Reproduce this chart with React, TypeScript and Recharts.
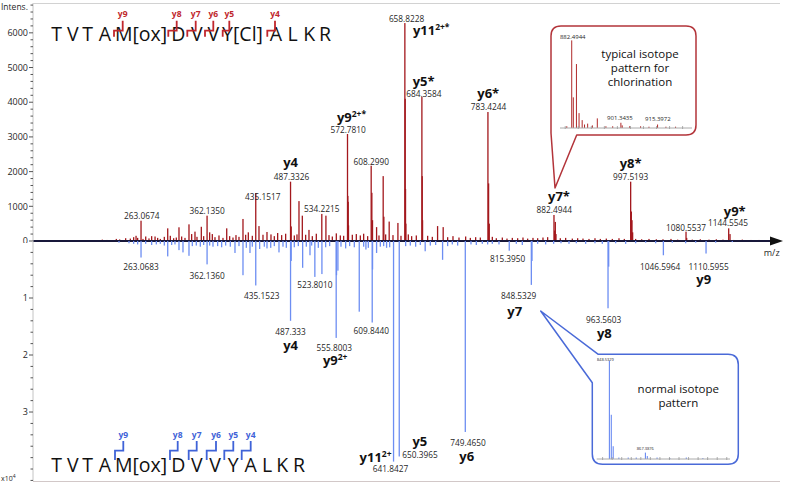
import React from 'react';
import { ComposedChart, Bar, Scatter, XAxis, YAxis, ReferenceLine } from 'recharts';

const FONT = '"Open Sans", "Noto Sans", Arial, sans-serif';
const RED = '#a3181d';
const RED_MARK = '#c0272d';
const BLUE = '#6d8ef2';
const BLUE_MARK = '#3f63d8';
const INK = '#1f1f1f';

const mzDomain = [101, 1220];

// ---- upper spectrum: chlorinated peptide ----
const topLabelMz = [263.0674, 362.135, 435.1517, 487.3326, 534.2215, 572.781, 608.299, 658.8228, 684.3584, 783.4244, 882.4944, 997.5193, 1080.5537, 1144.5545];
const topLabelInt = [585, 730, 1383, 1710, 780, 3084, 2170, 6282, 4150, 3718, 750, 1710, 270, 365];
const topLabelText = ['263.0674', '362.1350', '435.1517', '487.3326', '534.2215', '572.7810', '608.2990', '658.8228', '684.3584', '783.4244', '882.4944', '997.5193', '1080.5537', '1144.5545'];
const topIon = ['', '', '', 'y4', '', 'y9', '', 'y11', 'y5*', 'y6*', 'y7*', 'y8*', '', 'y9*'];
const topIonSup = ['', '', '', '', '', '2+*', '', '2+*', '', '', '', '', '', ''];

const topPeakMz = [255.6, 270.1, 284.1, 303.1, 320.0, 335.0, 344.0, 353.5, 370.0, 391.6, 405.5, 416.0, 440.0, 488.33, 500.0, 505.0, 515.0, 540.4, 573.28, 573.78, 574.28, 609.3, 610.3, 616.4, 626.3, 627.3, 635.3, 648.4, 659.32, 659.82, 660.32, 684.86, 685.36, 707.9, 716.3, 784.42, 785.42, 883.5, 884.49, 885.5, 998.52, 999.52, 1000.5, 1081.55, 1146.55];
const topPeakInt = [150, 130, 130, 365, 395, 480, 270, 410, 200, 365, 170, 635, 430, 420, 1150, 730, 320, 730, 1300, 1130, 450, 1390, 600, 400, 1870, 700, 560, 520, 4100, 1500, 500, 1870, 600, 430, 400, 1660, 500, 300, 550, 200, 850, 600, 250, 90, 200];

const topNoiseMz = [205, 212, 226, 231, 240, 247, 252, 258, 266, 275, 279, 288, 292, 298, 307, 312, 316, 324, 329, 339, 347, 357, 366, 374, 380, 386, 396, 401, 410, 420, 424, 430, 446, 452, 458, 463, 468, 474, 480, 493, 497, 510, 520, 526, 545, 550, 556, 562, 567, 580, 586, 592, 597, 603, 620, 630, 641, 653, 664, 669, 676, 693, 700, 723, 731, 740, 750, 757, 765, 772, 790, 796, 805, 812, 820, 828, 836, 843, 851, 858, 866, 873, 892, 900, 910, 918, 926, 935, 944, 952, 961, 970, 980, 988, 1005, 1014, 1025, 1036, 1046, 1058, 1068, 1090, 1102, 1115, 1126, 1136, 1152, 1165, 1178, 1190];
const topNoiseInt = [40, 30, 60, 45, 80, 70, 110, 90, 60, 75, 140, 90, 60, 120, 150, 80, 100, 130, 90, 200, 120, 140, 250, 110, 160, 90, 140, 100, 120, 180, 250, 150, 180, 260, 190, 140, 230, 170, 210, 160, 190, 180, 140, 210, 170, 130, 220, 160, 150, 180, 200, 160, 210, 140, 160, 190, 170, 150, 190, 140, 160, 150, 120, 110, 140, 100, 130, 90, 110, 100, 120, 80, 100, 70, 90, 80, 100, 70, 90, 80, 100, 110, 80, 90, 70, 80, 70, 60, 80, 60, 70, 60, 80, 60, 60, 50, 60, 50, 50, 60, 40, 40, 50, 40, 50, 40, 30, 40, 30, 30];

// ---- lower spectrum: unmodified peptide (x10^4) ----
const botLabelMz = [263.0683, 362.136, 435.1523, 487.333, 523.801, 555.8003, 609.844, 641.8427, 650.3965, 749.465, 815.395, 848.5329, 963.5603, 1046.5964, 1110.5955];
const botLabelInt = [0.29, 0.41, 0.78, 1.4, 0.63, 1.7, 1.43, 3.87, 3.78, 3.35, 0.17, 0.77, 1.18, 0.25, 0.22];
const botLabelText = ['263.0683', '362.1360', '435.1523', '487.333', '523.8010', '555.8003', '609.8440', '641.8427', '650.3965', '749.4650', '815.3950', '848.5329', '963.5603', '1046.5964', '1110.5955'];
const botIon = ['', '', '', 'y4', '', 'y9', '', 'y11', 'y5', 'y6', '', 'y7', 'y8', '', 'y9'];
const botIonSup = ['', '', '', '', '', '2+', '', '2+', '', '', '', '', '', '', ''];

const botPeakMz = [303.1, 320.0, 326.0, 335.0, 371.0, 404.0, 416.0, 426.5, 457.6, 470.0, 488.33, 505.5, 516.5, 534.4, 556.3, 558.4, 590.4, 600.4, 610.35, 616.4, 631.4, 689.3, 715.4, 849.53, 964.56];
const botPeakInt = [0.27, 0.16, 0.2, 0.26, 0.1, 0.21, 0.6, 0.21, 0.12, 0.2, 0.35, 0.47, 0.25, 0.58, 0.6, 0.52, 1.24, 0.15, 0.5, 0.21, 0.12, 0.18, 0.33, 0.35, 0.45];

const botNoiseMz = [230, 245, 252, 258, 270, 279, 286, 292, 298, 309, 314, 340, 346, 352, 357, 366, 378, 384, 390, 397, 410, 421, 430, 441, 448, 452, 463, 476, 481, 493, 499, 511, 519, 529, 540, 546, 563, 570, 576, 583, 597, 604, 622, 627, 636, 660, 667, 675, 682, 697, 705, 723, 730, 738, 758, 766, 775, 783, 790, 800, 826, 835, 858, 870, 882, 893, 905, 916, 930, 944, 955, 975, 990, 1005, 1020, 1035, 1060, 1080, 1095, 1125, 1150];
const botNoiseInt = [0.03, 0.04, 0.05, 0.06, 0.05, 0.07, 0.06, 0.05, 0.08, 0.07, 0.06, 0.09, 0.08, 0.1, 0.07, 0.08, 0.09, 0.11, 0.08, 0.1, 0.09, 0.12, 0.1, 0.14, 0.1, 0.13, 0.09, 0.1, 0.12, 0.11, 0.09, 0.1, 0.08, 0.12, 0.11, 0.09, 0.1, 0.13, 0.09, 0.11, 0.1, 0.12, 0.1, 0.09, 0.11, 0.09, 0.08, 0.1, 0.07, 0.08, 0.07, 0.09, 0.06, 0.08, 0.06, 0.07, 0.05, 0.06, 0.05, 0.06, 0.05, 0.07, 0.05, 0.06, 0.05, 0.04, 0.05, 0.04, 0.05, 0.04, 0.05, 0.04, 0.05, 0.04, 0.03, 0.04, 0.03, 0.04, 0.03, 0.03, 0.02];

const topMajorTicks = [0, 1000, 2000, 3000, 4000, 5000, 6000];
const botMajorTicks = [1, 2, 3];

// ---- isotope insets (relative %) ----
const clInsetMz = [880.6, 882.49, 883.1, 884.3, 885.3, 886.5, 887.4, 888.6, 890.4, 892.3, 895.6, 898.2, 901.34, 901.85, 904.7, 908.9, 912.1, 915.4, 918.6, 922.3];
const clInsetRel = [2, 100, 35, 73, 17, 9, 4, 5, 3, 11, 2, 2, 6, 3, 2, 2, 1.5, 4, 1.5, 1.5];
const clInsetLabelMz = [882.4944, 901.3435, 915.3972];
const clInsetLabelRel = [100, 6, 4];
const clInsetTicks = [880, 885, 890, 895, 900, 905, 910, 915, 920, 925];

const normInsetMz = [848.53, 849.53, 850.53, 853.5, 858.4, 862.6, 867.39, 868.39, 873.5, 880.2, 888.8, 897.5];
const normInsetRel = [100, 45, 13, 1.5, 1.5, 1.5, 6.5, 3, 1.5, 1, 1.5, 1];
const normInsetLabelMz = [848.5329, 867.3876];
const normInsetLabelRel = [100, 6.5];
const normInsetTicks = [845, 850, 855, 860, 865, 870, 875, 880, 885, 890, 895, 900, 905, 910];

// sequences and fragment brackets (annotation layout)
const topSeq = ['T', 'V', 'T', 'A', 'M[ox]', 'D', 'V', 'V', 'Y[Cl]', 'A', 'L', 'K', 'R'];
const topSeqX = [56.7, 72.7, 87.7, 105, 141, 178.3, 196.7, 213.3, 242.5, 276, 292.7, 309.3, 325];
const botSeq = ['T', 'V', 'T', 'A', 'M[ox]', 'D', 'V', 'V', 'Y', 'A', 'L', 'K', 'R'];
const botSeqX = [56.7, 72.7, 87.7, 105, 141, 178.3, 196.7, 215, 233.3, 250.7, 267, 282.3, 299];
const fragNames = ['y9', 'y8', 'y7', 'y6', 'y5', 'y4'];
const topFragX = [[114, 122.7], [168.3, 176.7], [187.3, 195.7], [205, 213.3], [222.7, 229.3], [267.3, 275]];
const botFragX = [[115, 123.3], [170, 177.7], [188.7, 196.7], [206.7, 216], [224.3, 233.3], [241.7, 250.7]];

// label offsets: [numDx, numDy, numAnchor, ionDx, ionDy, ionAnchor]
const topNudge: any[] = [
  [0.7, -2, 'middle'], [0, -2, 'middle'], [7, 7, 'middle'], [1, -2, 'middle', 0, -14.5, 'middle'],
  [0, -1.5, 'middle'], [0.6, -1.5, 'middle', 4, -12.5, 'middle'], [0, -1, 'middle'],
  [1.7, -1.5, 'middle', 8, 12, 'start'], [2, -0.5, 'middle', 1.7, -11.5, 'middle'],
  [0.6, -2.5, 'middle', 0.3, -14, 'middle'], [0.3, -2, 'middle', 5, -14, 'middle'],
  [0, -2, 'middle', 0, -14, 'middle'], [0, -1, 'middle'], [-0.7, -2.5, 'middle', 6, -12.6, 'middle'],
];
const botNudge: any[] = [
  [0, 12, 'middle'], [0, 14.5, 'middle'], [6, 14, 'middle'], [0, 14.5, 'middle', 0, 29, 'middle'],
  [0, 11, 'middle'], [-2, 13, 'middle', -1, 27.5, 'middle'], [-1, 11.5, 'middle'],
  [-3, 10, 'middle', -2, 0.5, 'end'], [3, 2, 'start', 20.6, -10, 'middle'],
  [2.7, 14.5, 'middle', 1.4, 29, 'middle'], [-1.6, 11, 'middle'], [-12.7, 14.5, 'middle', -16.7, 31, 'middle'],
  [-4.4, 15, 'middle', -3.7, 30, 'middle'], [-3.3, 15, 'middle'], [2.6, 16, 'middle', -2.4, 30, 'middle'],
];

const zipPeaks = (mz: number[], v: number[]) => mz.map((m, i) => ({ mz: m, v: v[i], i }));

const topData = [...zipPeaks(topNoiseMz, topNoiseInt), ...zipPeaks(topPeakMz, topPeakInt), ...zipPeaks(topLabelMz, topLabelInt)];
const botData = [...zipPeaks(botNoiseMz, botNoiseInt), ...zipPeaks(botPeakMz, botPeakInt), ...zipPeaks(botLabelMz, botLabelInt)];
const topLabelData = zipPeaks(topLabelMz, topLabelInt);
const botLabelData = zipPeaks(botLabelMz, botLabelInt);

const topTicks = Array.from({ length: 35 }, (_, k) => k * 200);
const botTicks = Array.from({ length: 21 }, (_, k) => (k + 1) / 5);

const stick = (color: string, w = 1.3) => (p: any) => {
  const y = Math.min(p.y, p.y + p.height);
  const h = Math.abs(p.height);
  return <rect x={p.x + p.width / 2 - w / 2} y={y} width={w} height={h} fill={color} />;
};

const axisTick = (majors: number[]) => (p: any) => {
  const v = p.payload.value;
  const major = majors.some((m) => Math.abs(m - v) < 1e-6);
  return (
    <g>
      <line x1={p.x - (major ? 4 : 2.5)} x2={p.x} y1={p.y} y2={p.y} stroke="#555" strokeWidth={1} />
      {major && (
        <text x={p.x - 5} y={p.y + 3.2} textAnchor="end" fontSize={9} fill={INK} fontFamily={FONT}>
          {Math.round(v)}
        </text>
      )}
    </g>
  );
};

const peakLabel = (texts: string[], ions: string[], sups: string[], nudge: any[]) => (p: any) => {
  const i = p.payload.i;
  const [ndx, ndy, nAnchor, idx, idy, iAnchor] = nudge[i];
  return (
    <g>
      <text x={p.cx + ndx} y={p.cy + ndy} textAnchor={nAnchor} fontSize={8.3} fill={INK} fontFamily={FONT}>
        {texts[i]}
      </text>
      {ions[i] && (
        <text x={p.cx + idx} y={p.cy + idy} textAnchor={iAnchor} fontSize={13} fontWeight={700} fill="#111" fontFamily={FONT}>
          {ions[i]}
          {sups[i] && <tspan dy={-5} fontSize={8.5}>{sups[i]}</tspan>}
        </text>
      )}
    </g>
  );
};

const insetTick = (p: any) => <line x1={p.x} x2={p.x} y1={p.y - 2} y2={p.y + 1} stroke="#999" strokeWidth={0.8} />;

const insetLabel = (font: number, dx: number[], dy: number[]) => (p: any) => (
  <text x={p.cx + dx[p.payload.i]} y={p.cy + dy[p.payload.i]} textAnchor="middle" fontSize={font} fill={INK} fontFamily={FONT}>
    {p.payload.mz.toFixed(4)}
  </text>
);

function Inset(props: any) {
  const { left, top, width, height, margin, domain, ticks, mz, rel, labelMz, labelRel, color, labelFont, dx, dy } = props;
  return (
    <div style={{ position: 'absolute', left, top }}>
      <ComposedChart width={width} height={height} data={zipPeaks(mz, rel)} margin={margin}>
        <XAxis dataKey="mz" type="number" domain={domain} ticks={ticks} interval={0} height={2} tickSize={0} tickMargin={0} tick={insetTick} axisLine={{ stroke: '#aaa' }} allowDataOverflow />
        <YAxis dataKey="v" type="number" domain={[0, 105]} hide />
        <Bar dataKey="v" barSize={1} shape={stick(color, 1)} isAnimationActive={false} />
        <Scatter data={zipPeaks(labelMz, labelRel)} dataKey="v" shape={insetLabel(labelFont, dx, dy)} isAnimationActive={false} />
      </ComposedChart>
    </div>
  );
}

export default function App() {
  return (
    <div style={{ position: 'absolute', left: 0, top: 0, width: 790, height: 485, background: '#fff', overflow: 'hidden', fontFamily: FONT }}>
      <div style={{ position: 'absolute', left: 0, top: 0 }}>
        <ComposedChart width={790} height={243} data={topData} margin={{ top: 3, right: 11, bottom: 2, left: 0 }}>
          <XAxis dataKey="mz" type="number" domain={mzDomain} hide allowDataOverflow />
          <YAxis dataKey="v" type="number" domain={[0, 6860]} ticks={topTicks} interval={0} width={33} tickSize={0} tickMargin={0} tickLine={false} tick={axisTick(topMajorTicks)} axisLine={{ stroke: '#c4c4c4' }} allowDataOverflow />
          <Bar dataKey="v" barSize={1} fill={RED} shape={stick(RED)} isAnimationActive={false} />
          <ReferenceLine y={0} stroke="#18183a" strokeWidth={1.8} />
          <Scatter data={topLabelData} dataKey="v" shape={peakLabel(topLabelText, topIon, topIonSup, topNudge)} isAnimationActive={false} />
        </ComposedChart>
      </div>
      <div style={{ position: 'absolute', left: 0, top: 241 }}>
        <ComposedChart width={790} height={244} data={botData} margin={{ top: 0, right: 11, bottom: 4, left: 0 }}>
          <XAxis dataKey="mz" type="number" domain={mzDomain} hide allowDataOverflow />
          <YAxis dataKey="v" type="number" domain={[0, 4.21]} reversed ticks={botTicks} interval={0} width={33} tickSize={0} tickMargin={0} tickLine={false} tick={axisTick(botMajorTicks)} axisLine={{ stroke: '#c4c4c4' }} allowDataOverflow />
          <Bar dataKey="v" barSize={1} fill={BLUE} shape={stick(BLUE)} isAnimationActive={false} />
          <Scatter data={botLabelData} dataKey="v" shape={peakLabel(botLabelText, botIon, botIonSup, botNudge)} isAnimationActive={false} />
        </ComposedChart>
      </div>

      <svg width={790} height={485} style={{ position: 'absolute', left: 0, top: 0 }}>
        <path d="M576.7 135 H686 Q696 135 696 125 V36 Q696 26 686 26 H561 Q551 26 551 36 V133 L555 188 Z" fill="#fff" stroke="#b3343a" strokeWidth={1.5} strokeLinejoin="round" />
        <path d="M598.3 354.3 H728 Q738.3 354.3 738.3 364.6 V454 Q738.3 464.3 728 464.3 H602.6 Q592.3 464.3 592.3 454 V382.7 L540.7 311 Z" fill="#fff" stroke="#4a6ad8" strokeWidth={1.5} strokeLinejoin="round" />
      </svg>

      <Inset left={556} top={30} width={140} height={100} margin={{ top: 6, right: 4, bottom: 0, left: 4 }} domain={[878, 928.6]} ticks={clInsetTicks}
        mz={clInsetMz} rel={clInsetRel} labelMz={clInsetLabelMz} labelRel={clInsetLabelRel} color="#b02a2a" labelFont={6} dx={[1, -1, 0.3]} dy={[-1.5, -3, -3]} />
      <Inset left={592} top={352} width={144} height={110} margin={{ top: 3.8, right: 6, bottom: 1, left: 4.7 }} domain={[841.9, 911.7]} ticks={normInsetTicks}
        mz={normInsetMz} rel={normInsetRel} labelMz={normInsetLabelMz} labelRel={normInsetLabelRel} color="#5b7ff0" labelFont={4} dx={[-4, 0]} dy={[0, -3]} />

      <svg width={790} height={485} style={{ position: 'absolute', left: 0, top: 0 }} fontFamily={FONT}>
        <line x1={33} x2={780} y1={3.5} y2={3.5} stroke="#d2d2d2" />
        <line x1={33} x2={780} y1={481.5} y2={481.5} stroke="#d2c8c8" />
        <polygon points="770,236.5 783,241 770,245.5" fill="#111" />
        <text x={771.7} y={255.5} textAnchor="middle" fontSize={9} fill={INK}>m/z</text>
        <text x={1} y={9.5} fontSize={8.5} fill={INK}>Intens.</text>
        <text x={1} y={481} fontSize={7} fill={INK}>x10<tspan dy={-3} fontSize={5}>4</tspan></text>

        {topSeq.map((s, k) => (
          <text key={'ts' + k} x={topSeqX[k]} y={40.5} textAnchor="middle" fontSize={19.5} fill="#111">{s}</text>
        ))}
        {botSeq.map((s, k) => (
          <text key={'bs' + k} x={botSeqX[k]} y={472} textAnchor="middle" fontSize={19.5} fill="#111">{s}</text>
        ))}
        {topFragX.map(([a, b], k) => (
          <g key={'tf' + k}>
            <path d={`M${a} 36.7 V30.7 H${b} V20.7`} fill="none" stroke={RED_MARK} strokeWidth={1.8} />
            <text x={b} y={17} textAnchor="middle" fontSize={8.5} fontWeight={700} fill={RED_MARK}>{fragNames[k]}</text>
          </g>
        ))}
        {botFragX.map(([a, b], k) => (
          <g key={'bf' + k}>
            <path d={`M${a} 460 V450.7 H${b} V441`} fill="none" stroke={BLUE_MARK} strokeWidth={1.8} />
            <text x={b} y={438} textAnchor="middle" fontSize={8.5} fontWeight={700} fill={BLUE_MARK}>{fragNames[k]}</text>
          </g>
        ))}

        <text x={640} y={57.5} textAnchor="middle" fontSize={11.5} fill="#111">typical isotope</text>
        <text x={640} y={72} textAnchor="middle" fontSize={11.5} fill="#111">pattern for</text>
        <text x={640} y={86} textAnchor="middle" fontSize={11.5} fill="#111">chlorination</text>
        <text x={678.3} y={393.3} textAnchor="middle" fontSize={11.5} fill="#111">normal isotope</text>
        <text x={678.3} y={406.7} textAnchor="middle" fontSize={11.5} fill="#111">pattern</text>
      </svg>
    </div>
  );
}
